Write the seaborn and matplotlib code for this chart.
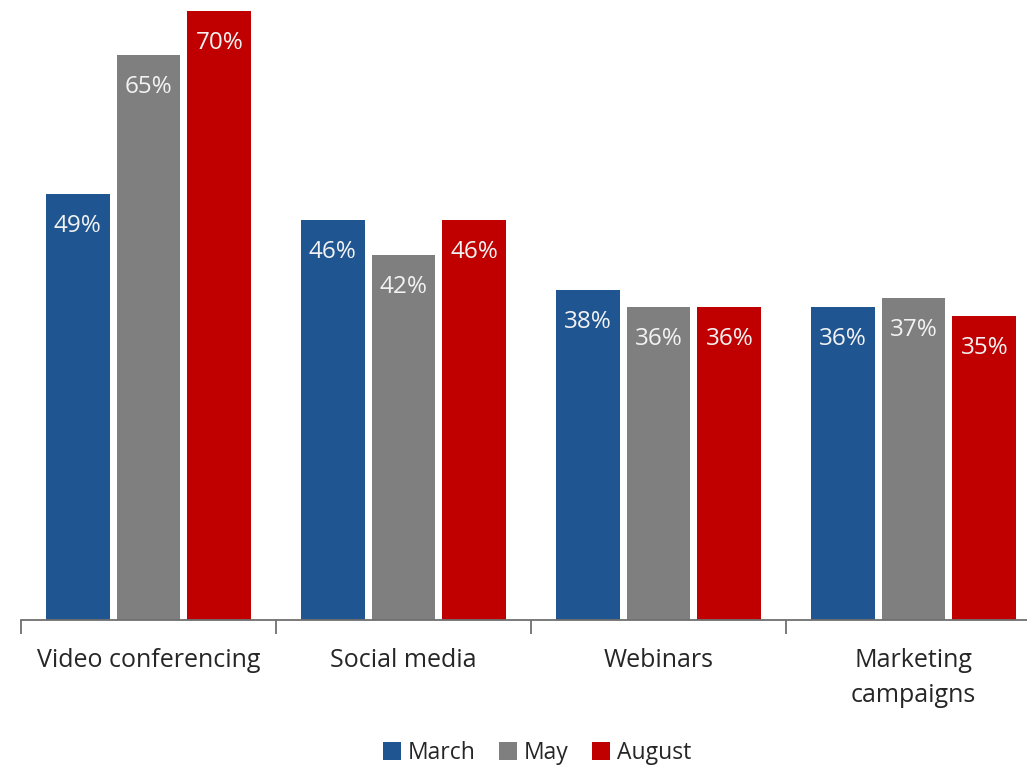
import matplotlib
matplotlib.use("Agg")
import matplotlib.pyplot as plt
from matplotlib.patches import Patch
import seaborn as sns
import pandas as pd

categories = ["Video conferencing", "Social media", "Webinars", "Marketing\ncampaigns"]
periods = ["March", "May", "August"]
march = [49, 46, 38, 36]
may = [65, 42, 36, 37]
august = [70, 46, 36, 35]
colors = ["#1F5591", "#7F7F7F", "#C00000"]

rows = []
for period, vals in zip(periods, [march, may, august]):
    for cat, v in zip(categories, vals):
        rows.append({"category": cat, "period": period, "value": v})
df = pd.DataFrame(rows)

sns.set_theme(style="white")
plt.rcParams["font.family"] = ["Open Sans", "DejaVu Sans"]

fig = plt.figure(figsize=(10.27, 7.66), dpi=100)
ax = fig.add_axes([21 / 1027, 146 / 766, 1020 / 1027, 620 / 766])

sns.barplot(data=df, x="category", y="value", hue="period", order=categories,
            hue_order=periods, palette=colors, width=0.834, gap=0.1,
            saturation=1, ax=ax, legend=False, edgecolor="none")

ax.set_ylim(0, 71.3)
ax.set_xlim(-0.5, 3.5)
ax.set_xlabel("")
ax.set_ylabel("")
ax.set_yticks([])
for s in ["top", "right", "left"]:
    ax.spines[s].set_visible(False)
ax.spines["bottom"].set_color("#6f6f6f")
ax.spines["bottom"].set_linewidth(1.3)

ax.set_xticks(range(len(categories)))
ax.set_xticklabels(categories, fontsize=18, color="#262626", linespacing=1.55)
ax.tick_params(axis="x", which="major", length=0, pad=20)
ax.set_xticks([i - 0.5 for i in range(len(categories) + 1)], minor=True)
ax.tick_params(axis="x", which="minor", length=10, width=1.3, color="#6f6f6f", bottom=True)

for container in ax.containers:
    for bar in container:
        h = bar.get_height()
        ax.annotate(f"{h:.0f}%", (bar.get_x() + bar.get_width() / 2, h),
                    xytext=(0, -32), textcoords="offset pixels",
                    ha="center", va="center", fontsize=17.5, color="#F2F2F2")

handles = [Patch(facecolor=c, edgecolor="none") for c in colors]
fig.legend(handles, periods, loc="center", bbox_to_anchor=(537 / 1027, 1 - 753 / 766),
           ncol=3, frameon=False, fontsize=16.5, handlelength=0.8, handleheight=0.8,
           handletextpad=0.3, columnspacing=1.0, labelcolor="#262626")

fig.savefig("out.png", dpi=100)
